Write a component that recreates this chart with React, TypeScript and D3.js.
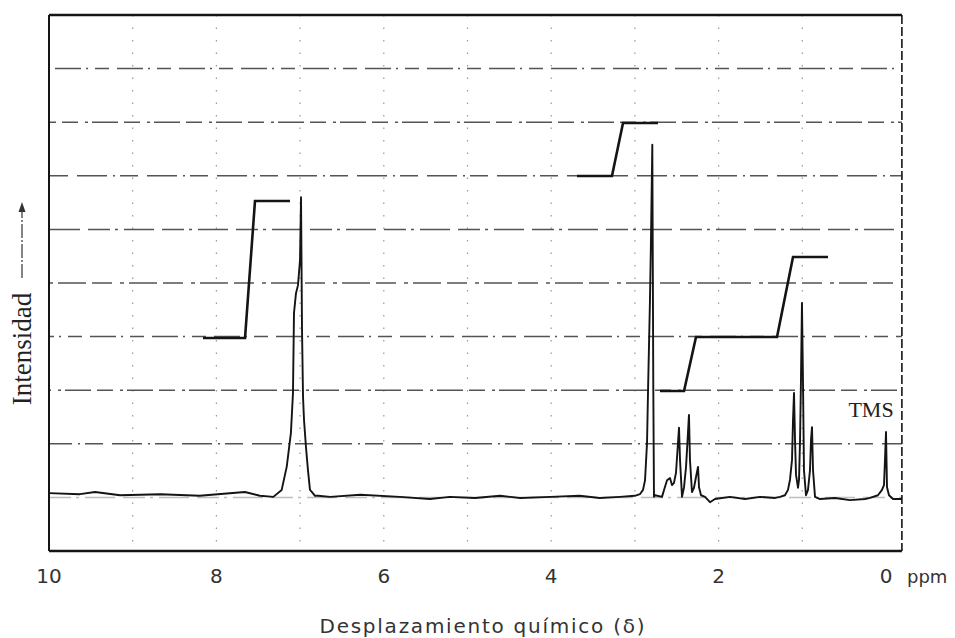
import React from "react";
import * as d3 from "d3";

// ---- data ----
const xTicks = [10, 8, 6, 4, 2, 0];
const xTickLabels = ["10", "8", "6", "4", "2", "0"];
const gridPpm = [1, 2, 3, 4, 5, 6, 7, 8, 9];
const gridInt = [1, 2, 3, 4, 5, 6, 7, 8, 9];

const specPpm = [
  10.0, 9.63, 9.45, 9.15, 8.67, 8.2, 7.66, 7.48, 7.32, 7.22, 7.16, 7.11, 7.085, 7.073, 7.049, 7.025,
  7.001, 6.989, 6.977, 6.965, 6.953, 6.93, 6.906, 6.882, 6.858, 6.822, 6.786, 6.64, 6.28, 5.81, 5.45,
  5.21, 4.91, 4.61, 4.37, 4.01, 3.66, 3.42, 3.18, 3.0, 2.94, 2.903, 2.879, 2.855, 2.843, 2.82, 2.808,
  2.792, 2.78, 2.772, 2.76, 2.676, 2.652, 2.616, 2.581, 2.557, 2.533, 2.509, 2.485, 2.473, 2.461,
  2.437, 2.413, 2.389, 2.366, 2.354, 2.342, 2.318, 2.294, 2.27, 2.246, 2.234, 2.21, 2.162, 2.103,
  2.043, 1.864, 1.685, 1.505, 1.326, 1.266, 1.207, 1.171, 1.147, 1.123, 1.111, 1.099, 1.087, 1.075,
  1.051, 1.039, 1.027, 1.016, 1.004, 0.992, 0.98, 0.956, 0.932, 0.908, 0.896, 0.884, 0.872, 0.848,
  0.789, 0.609, 0.43, 0.251, 0.191, 0.096, 0.048, 0.024, 0.012, 0.0, -0.012, -0.036, -0.084, -0.19,
];
const specInt = [
  1.08, 1.06, 1.1, 1.04, 1.06, 1.03, 1.1, 1.03, 1.01, 1.14, 1.57, 2.2, 2.95, 4.44, 4.81, 4.96,
  5.43, 6.6, 4.12, 2.87, 2.44, 1.94, 1.51, 1.14, 1.1, 1.03, 1.03, 1.01, 1.05, 1.01, 0.97,
  1.01, 0.99, 1.03, 0.99, 1.01, 1.03, 0.99, 1.01, 1.03, 1.06, 1.14, 1.32, 2.02, 2.99, 4.68, 5.8,
  7.58, 3.0, 1.01, 1.04, 1.01, 1.14, 1.32, 1.36, 1.23, 1.27, 1.46, 2.02, 2.3, 1.7,
  1.01, 1.19, 1.57, 2.2, 2.54, 1.7, 1.1, 1.18, 1.38, 1.57, 1.19, 1.04, 1.01, 0.91,
  0.97, 1.01, 0.97, 1.01, 0.99, 1.01, 1.04, 1.14, 1.33, 1.7, 2.44, 2.95, 2.07, 1.42,
  1.18, 1.33, 2.07, 3.19, 4.63, 3.19, 1.51, 1.04, 1.14, 1.51, 2.07, 2.31, 1.51, 1.01,
  0.97, 0.99, 0.95, 0.97, 0.99, 1.04, 1.14, 1.23, 1.7, 2.22, 1.19, 1.04, 0.97, 0.97,
];

// integration traces
const integ1Ppm = [8.16, 7.658, 7.539, 7.121];
const integ1Int = [3.974, 3.974, 6.53, 6.53];
const integ2Ppm = [3.692, 3.274, 3.142, 2.724];
const integ2Int = [6.996, 6.996, 7.985, 7.985];
const integ3Ppm = [2.7, 2.413, 2.27, 1.302, 1.111, 0.693];
const integ3Int = [2.985, 2.985, 3.993, 3.993, 5.485, 5.485];

const xTitle = "Desplazamiento químico (δ)";
const yTitle = "Intensidad";
const tmsLabel = "TMS";
const unitLabel = "ppm";

const gridDash = ["22,5,3,6,30,8", "30,6,2,5,18,9", "16,7,3,4,26,6", "26,5,2,7,14,8", "20,8,4,5,28,6"];

export default function App() {
  const x = d3.scaleLinear().domain([10, 0]).range([49, 886]);
  const y = d3.scaleLinear().domain([0, 10]).range([551, 15]);
  const xMinPpm = -0.19;
  const left = x(10);
  const right = x(xMinPpm);
  const top = y(10);
  const bottom = y(0);

  const line = d3
    .line<[number, number]>()
    .x((d) => x(d[0]))
    .y((d) => y(d[1]));

  const zip = (a: number[], b: number[]) => a.map((v, i) => [v, b[i]] as [number, number]);
  const spec = zip(specPpm, specInt);
  const integs = [zip(integ1Ppm, integ1Int), zip(integ2Ppm, integ2Int), zip(integ3Ppm, integ3Int)];

  const ink = "#141414";

  return (
    <svg
      width={955}
      height={638}
      style={{ position: "absolute", left: 0, top: 0, background: "#fff" }}
    >
      <rect x={0} y={0} width={955} height={638} fill="#fff" />
      {/* horizontal dashed grid */}
      {gridInt.map((g, i) => (
        <line
          key={"h" + g}
          x1={left}
          x2={right}
          y1={y(g)}
          y2={y(g)}
          stroke="#2a2a2a"
          strokeWidth={1.5}
          strokeDasharray={gridDash[i % gridDash.length]}
          strokeDashoffset={i * 7}
          opacity={g === 1 ? 0.3 : 0.8}
        />
      ))}
      {/* vertical dotted grid */}
      {gridPpm.map((g) => (
        <line
          key={"v" + g}
          x1={x(g)}
          x2={x(g)}
          y1={top}
          y2={bottom}
          stroke="#555"
          strokeWidth={1.2}
          strokeDasharray="1.5,11"
          opacity={0.6}
        />
      ))}
      {/* frame */}
      <line x1={left} x2={right} y1={top} y2={top} stroke={ink} strokeWidth={2.6} />
      <line x1={left} x2={right} y1={bottom} y2={bottom} stroke={ink} strokeWidth={2.6} />
      <line x1={left} x2={left} y1={top} y2={bottom} stroke={ink} strokeWidth={2} />
      <line
        x1={right}
        x2={right}
        y1={top}
        y2={bottom}
        stroke={ink}
        strokeWidth={1.6}
        strokeDasharray="9,3"
      />
      {/* integration traces */}
      {integs.map((d, i) => (
        <path key={"i" + i} d={line(d) || ""} fill="none" stroke={ink} strokeWidth={2.6} />
      ))}
      {/* spectrum */}
      <path d={line(spec) || ""} fill="none" stroke={ink} strokeWidth={1.9} strokeLinejoin="round" />
      {/* tick labels */}
      {xTicks.map((t, i) => (
        <text
          key={"t" + t}
          x={x(t)}
          y={583}
          textAnchor="middle"
          fontFamily="DejaVu Sans"
          fontSize={20}
          fill="#333"
        >
          {xTickLabels[i]}
        </text>
      ))}
      <text x={907} y={583} fontFamily="DejaVu Sans" fontSize={18} fill="#333">
        {unitLabel}
      </text>
      <text
        x={482}
        y={633}
        textAnchor="middle"
        fontFamily="DejaVu Sans"
        fontSize={20}
        fill="#333"
        textLength={325}
        lengthAdjust="spacing"
      >
        {xTitle}
      </text>
      {/* y title with arrow */}
      <text
        transform="translate(31,349) rotate(-90)"
        textAnchor="middle"
        fontFamily="Liberation Serif"
        fontSize={27}
        fill="#222"
      >
        {yTitle}
      </text>
      <line x1={22} x2={22} y1={278} y2={210} stroke="#333" strokeWidth={1.2} strokeDasharray="14,2,2,2" />
      <path d="M22,202 L18.5,212 L25.5,212 Z" fill="#333" />
      {/* TMS label */}
      <text
        x={871}
        y={417}
        textAnchor="middle"
        fontFamily="Liberation Serif"
        fontSize={22}
        fill="#222"
      >
        {tmsLabel}
      </text>
    </svg>
  );
}
